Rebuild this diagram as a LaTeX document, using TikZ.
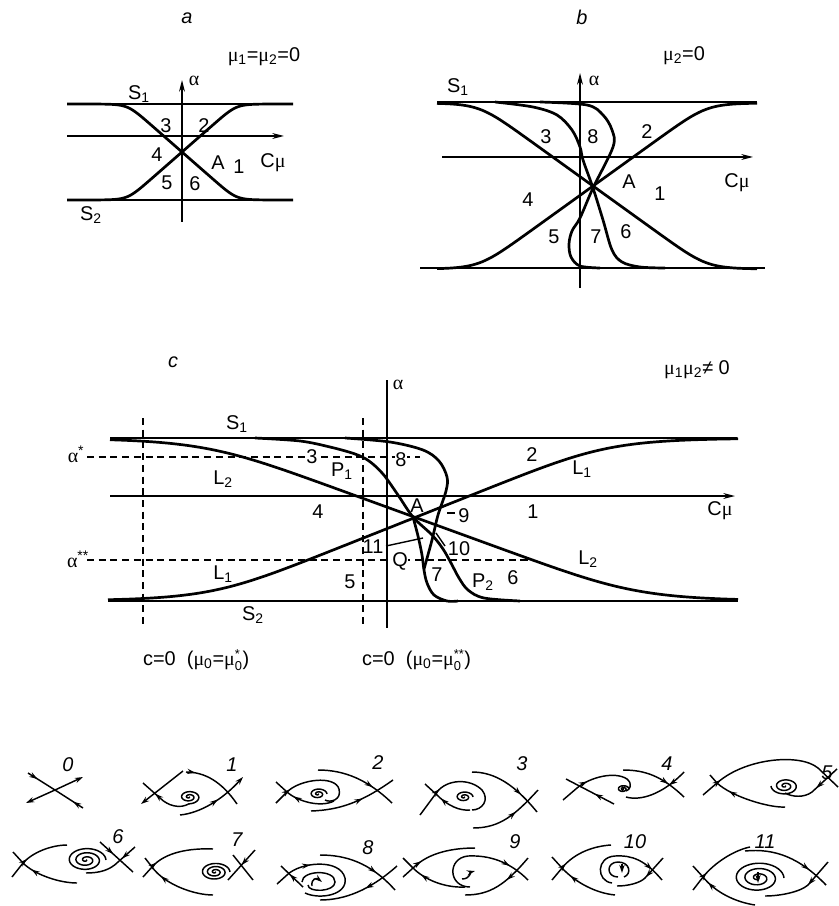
\documentclass[tikz,border=0pt]{standalone}
\usepackage{fontspec}
\setmainfont{Liberation Sans}
\newfontfamily\grk{Liberation Serif}
\usetikzlibrary{arrows,arrows.meta,calc,positioning,decorations.markings}

% spiral: centre x, centre y, radius, end angle
\newcommand{\spir}[4]{%
  \draw[orb] plot[domain=0:#4, samples=120, smooth]
    ({#1+(\x/#4)*#3*cos(\x)}, {#2+(\x/#4)*0.62*#3*sin(\x)});}
\newcommand{\subsup}[2]{$_{\mbox{\fontsize{11}{11}\selectfont #1}}^{\mbox{\fontsize{11}{11}\selectfont #2}}$}

\begin{document}
\begin{tikzpicture}[
    x=0.03cm, y=-0.03cm,
    font=\fontsize{17}{19}\selectfont,
    >={Stealth[length=7pt,width=4.5pt]},
    bnd/.style={line width=2.3pt},
    axln/.style={line width=1.2pt, -{Stealth[length=10pt,width=5pt]}},
    vert/.style={line width=1.2pt},
    aux/.style={line width=1pt, dash pattern=on 6pt off 4pt},
    orb/.style={line width=1.25pt},
    fw/.style={postaction={decorate,decoration={markings,
        mark=at position #1 with {\arrow{>}}}}},
    bw/.style={postaction={decorate,decoration={markings,
        mark=at position #1 with {\arrowreversed{>}}}}},
    onln/.style={fill=white, inner sep=0.5pt},
    pnum/.style={font=\fontsize{17}{19}\selectfont\itshape},
    declare function={sclip(\t,\n)=\t/pow(1+pow(abs(\t),\n),1/\n);}
]
\useasboundingbox (0,0) rectangle (838,906);

% ---- panel a
\node (ta) at (187,18) {\itshape a};
\node (mua) at (264,57) {{\grk μ}\textsubscript{1}={\grk μ}\textsubscript{2}=0};
\draw[bnd] (67,104) -- (293,104);
\draw[bnd] (67,200) -- (293,200);
\draw[axln] (182,222) -- (182,80);
\draw[axln] (67,136) -- (284,136);
\draw[bnd] plot[domain=67:293, samples=100] (\x, {152-48*sclip(0.875*(\x-182)/48,10)});
\draw[bnd] plot[domain=67:293, samples=100] (\x, {152+48*sclip(0.875*(\x-182)/48,10)});
\node (s1a) at (139,94) {S\textsubscript{1}};
\node (s2a) at (91,215) {S\textsubscript{2}};
\node (ala) at (194,81) {\grk α};
\node (cma) at (273,163) {C{\grk μ}};
\node (a3) at (166,126) {3};
\node (a2) at (204,126) {2};
\node (a4) at (157,155) {4};
\node (aA) at (218,163) {A};
\node (a1) at (239,167) {1};
\node (a5) at (167,183) {5};
\node (a6) at (195,184) {6};

% ---- panel b
\node (tb) at (582,17) {\itshape b};
\node (mub) at (684,56) {{\grk μ}\textsubscript{2}=0};
\draw[bnd] (437,102) -- (757,102);
\draw[bnd] (420,268) -- (765,268);
\draw[axln] (580,288) -- (580,73);
\draw[axln] (442,157) -- (753,157);
\draw[bnd] plot[domain=437:757, samples=100] (\x, {186-83*sclip(0.72*(\x-593)/83,10)});
\draw[bnd] plot[domain=437:757, samples=100] (\x, {186+83*sclip(0.72*(\x-593)/83,10)});
\draw[bnd] plot[smooth, tension=0.55] coordinates {(495,102) (533,107) (557,115)
    (572,130) (580,147) (583,160) (593,188) (603,220) (612,250) (622,262) (640,267) (665,268)};
\draw[bnd] plot[smooth, tension=0.55] coordinates {(540,102) (587,105) (603,115)
    (612,130) (613,147) (593,188) (580,218) (572,231) (569,244) (571,257) (580,266) (600,268)};
\node (s1b) at (458,87) {S\textsubscript{1}};
\node (alb) at (594,81) {\grk α};
\node (cmb) at (737,183) {C{\grk μ}};
\node (b3) at (546,137) {3};
\node (b8) at (593,137) {8};
\node (b2) at (647,132) {2};
\node (bA) at (629,182) {A};
\node (b1) at (660,194) {1};
\node (b4) at (528,200) {4};
\node (b5) at (554,237) {5};
\node (b7) at (596,237) {7};
\node (b6) at (626,232) {6};

% ---- panel c
\node (tc) at (173,362) {\itshape c};
\node (muc) at (697,370) {{\grk μ}\textsubscript{1}{\grk μ}\textsubscript{2}≠ 0};
\draw[aux] (87,457) -- (420,457);
\draw[aux] (87,560) -- (533,560);
\draw[aux] (143,418) -- (143,625);
\draw[aux] (363,418) -- (363,625);
\draw[bnd] (110,438) -- (737,438);
\draw[bnd] (108,601) -- (738,601);
\draw[axln] (110,496) -- (735,496);
\draw[vert] (387,380) -- (387,628);
\draw[bnd] plot[domain=108:738, samples=140] (\x, {519.5-81.5*sclip(0.397*(\x-410)/81.5,6)});
\draw[bnd] plot[domain=110:738, samples=140] (\x, {519.5+81.5*sclip(0.364*(\x-421)/81.5,6)});
% P1 - A - P2
\draw[bnd] plot[smooth, tension=0.55] coordinates {(255,438) (300,441) (330,447) (355,454)
    (369,461) (383,474) (398,495) (413,517) (432,535) (443,549) (451,563) (459,578)
    (468,590) (484,598) (520,601)};
% A - Q - S2
\draw[bnd] plot[smooth, tension=0.55] coordinates {(413,517) (418,536) (422,555)
    (424,570) (427,583) (434,595) (447,601) (458,601)};
% curve ending at Q
\draw[bnd] plot[smooth, tension=0.55] coordinates {(345,438) (390,442) (423,450)
    (439,461) (447,477) (446,491) (438,515) (432,540) (424,569)};
\draw[vert] (386,546) -- (423,538);
\draw[vert] (436,533) -- (445,546);
\draw[vert] (447,513) -- (455,513);
\node (als) at (76,454) {{\grk α}\textsuperscript{*}};
\node (alss) at (78,559) {{\grk α}\textsuperscript{**}};
\node (alc) at (398,385) {\grk α};
\node (cmc) at (720,511) {C{\grk μ}};
\node (s1c) at (237,424) {S\textsubscript{1}};
\node (s2c) at (253,615) {S\textsubscript{2}};
\node (l2a) at (223,479) {L\textsubscript{2}};
\node (l1a) at (223,574) {L\textsubscript{1}};
\node (l1b) at (582,469) {L\textsubscript{1}};
\node (l2b) at (588,559) {L\textsubscript{2}};
\node (p1) at (342,471) {P\textsubscript{1}};
\node (p2) at (483,582) {P\textsubscript{2}};
\node[onln] (c3) at (312,457) {3};
\node[onln] (c8) at (401,460) {8};
\node[onln] (cQ) at (400,561) {Q};
\node (c2) at (532,455) {2};
\node (c4) at (318,512) {4};
\node (cA) at (417,506) {A};
\node (c9) at (464,516) {9};
\node (c1) at (533,512) {1};
\node (c11) at (373,547) {11};
\node (c10) at (459,549) {10};
\node (c7) at (437,575) {7};
\node (c5) at (350,582) {5};
\node (c6) at (513,578) {6};
\node[anchor=west] (cz1) at (139,660) {c=0\ \ ({\grk μ}\textsubscript{0}={\grk μ}\subsup{0}{*})};
\node[anchor=west] (cz2) at (358,660) {c=0\ \ ({\grk μ}\textsubscript{0}={\grk μ}\subsup{0}{**})};

% ---- phase portraits, row 1
\node[pnum] (n0) at (68,765) {0};
\draw[orb,fw=0.35] (28,773) -- (55,790);
\draw[orb,fw=0.35] (83,808) -- (55,790);
\draw[orb,->] (55,790) -- (26,803);
\draw[orb,->] (55,790) -- (83,777);

\node[pnum] (n1) at (232,765) {1};
\draw[orb,->] (183,771) -- (141,804);
\draw[orb,bw=0.3] (143,783) -- (160,798) .. controls (168,806) and (180,809) .. (189,803.8);
\spir{189}{797}{11}{810}
\draw[orb,fw=0.15] (186,772) .. controls (205,772) and (222,782) .. (237,804);
\draw[orb,fw=0.55,->] (180,815) .. controls (200,813) and (222,800) .. (243,777);

\node[pnum] (n2) at (378,763) {2};
\draw[orb,fw=0.2] (276,803) -- (287,792) .. controls (300,779) and (335,775) .. (339,789)
    .. controls (342,800) and (330,803) .. (325,800);
\draw[orb,bw=0.35] (276,782) -- (287,792) .. controls (297,801) and (320,808) .. (334,801);
\spir{318}{794}{9}{720}
\draw[orb,fw=0.7] (318,770) .. controls (345,770) and (368,780) .. (392,803);
\draw[orb,fw=0.6] (311,811) .. controls (340,810) and (362,802) .. (393,780);

\node[pnum] (n3) at (522,764) {3};
\draw[orb,fw=0.3] (420,815) -- (437,792) .. controls (447,779) and (470,778) .. (482,790)
    .. controls (490,800) and (482,810) .. (472,810);
\draw[orb,bw=0.4] (425,784) -- (437,795) .. controls (448,806) and (460,811) .. (470,810);
\spir{464}{797}{9}{720}
\draw[orb,fw=0.7] (472,772) .. controls (495,772) and (515,785) .. (537,812);
\draw[orb,fw=0.6] (473,828) .. controls (500,828) and (515,815) .. (538,790);

\node[pnum] (n4) at (667,764) {4};
\draw[orb,fw=0.35] (563,800) -- (577,788) .. controls (590,777) and (615,771) .. (627,779)
    .. controls (633,784) and (630,790) .. (626,791);
\draw[orb,bw=0.6] (566,779) -- (614,804);
\spir{623}{789}{6}{720}
\draw[orb,fw=0.7] (623,770) .. controls (645,770) and (662,776) .. (684,797);
\draw[orb,bw=0.7] (626,797) .. controls (640,801) and (662,795) .. (684,772);

\node[pnum] (n5) at (827,773) {5};
\draw[orb,fw=0.15] (703,795) -- (717,783) .. controls (745,758) and (800,753) .. (818,768) -- (838,787);
\draw[orb,bw=0.3] (710,775) -- (717,783) .. controls (732,797) and (770,808) .. (785,807);
\spir{785}{786}{14}{900}
\draw[orb,fw=0.45] (837,769) -- (812,792) .. controls (804,798) and (792,797) .. (785,793);

% ---- phase portraits, row 2
\node[pnum] (n6) at (118,837) {6};
\draw[orb,fw=0.35] (12,877) -- (23,863) .. controls (35,850) and (55,845) .. (67,845);
\draw[orb,bw=0.35] (13,852) -- (23,863) .. controls (35,875) and (60,883) .. (77,883);
\spir{86}{860}{20}{1080}
\draw[orb,fw=0.4] (100,842) -- (133,872);
\draw[orb,fw=0.3] (135,847) -- (118,862) .. controls (110,870) and (100,873) .. (86,873);

\node[pnum] (n7) at (237,840) {7};
\draw[orb,fw=0.25] (143,877) -- (152,867) .. controls (165,852) and (190,848) .. (213,849);
\draw[orb,bw=0.3] (145,858) -- (152,867) .. controls (165,885) and (195,895) .. (213,895);
\spir{215}{872}{15}{1080}
\draw[orb] (233,855) -- (253,880);
\draw[orb,fw=0.5] (255,850) -- (228,880);

\node[pnum] (n8) at (368,848) {8};
\draw[orb,fw=0.3] (277,884) -- (287,875) .. controls (300,862) and (340,858) .. (345,878)
    .. controls (348,895) and (320,900) .. (305,893);
\draw[orb,bw=0.4] (281,866) -- (303,887);
\draw[orb] (302,882) .. controls (302,870) and (335,869) .. (335,882)
    .. controls (335,892) and (308,893) .. (308,885);
\draw[orb,->] (312,886) .. controls (311,878) and (317,878) .. (322,882);
\draw[orb,fw=0.7] (320,855) .. controls (345,855) and (370,862) .. (395,890);
\draw[orb,bw=0.55] (320,900) .. controls (345,900) and (370,890) .. (397,866);

\node[pnum] (n9) at (515,842) {9};
\draw[orb,fw=0.3] (403,877) -- (413,868) .. controls (425,856) and (445,848) .. (475,848);
\draw[orb,bw=0.35] (403,858) -- (413,868) .. controls (425,880) and (445,888) .. (465,887);
\draw[orb,fw=0.8] (470,887) .. controls (448,887) and (447,858) .. (468,856)
    .. controls (490,855) and (510,862) .. (528,880);
\draw[orb,->] (462,879) .. controls (470,879) and (471,872) .. (475,871);
\draw[orb,bw=0.6] (465,895) .. controls (490,895) and (505,885) .. (528,858);

\node[pnum] (n10) at (635,842) {10};
\draw[orb,fw=0.3] (552,880) -- (562,868) .. controls (575,852) and (595,846) .. (611,845);
\draw[orb,bw=0.35] (552,857) -- (562,868) .. controls (575,882) and (595,893) .. (615,895);
\draw[orb,fw=0.85] (612,883) .. controls (596,881) and (596,857) .. (615,856)
    .. controls (632,855) and (645,860) .. (662,880);
\draw[orb] (618,877) .. controls (606,877) and (606,862) .. (618,862)
    .. controls (630,862) and (632,874) .. (624,877);
\draw[orb,->] (622,864) -- (622,873);
\draw[orb,fw=0.45] (663,858) -- (645,878) .. controls (640,883) and (628,886) .. (617,886);

\node[pnum] (n11) at (765,842) {11};
\draw[orb,fw=0.3] (693,890) -- (703,877) .. controls (715,862) and (735,850) .. (750,847);
\draw[orb,bw=0.3] (693,866) -- (703,877) .. controls (715,892) and (735,902) .. (755,905);
\spir{758}{878}{26}{1080}
\draw[orb,->] (758,872) -- (758,883);
\draw[orb,fw=0.75] (745,851) .. controls (775,848) and (800,858) .. (826,885);
\draw[orb,fw=0.4] (828,862) -- (808,885) .. controls (800,892) and (780,896) .. (765,896);
\end{tikzpicture}
\end{document}
